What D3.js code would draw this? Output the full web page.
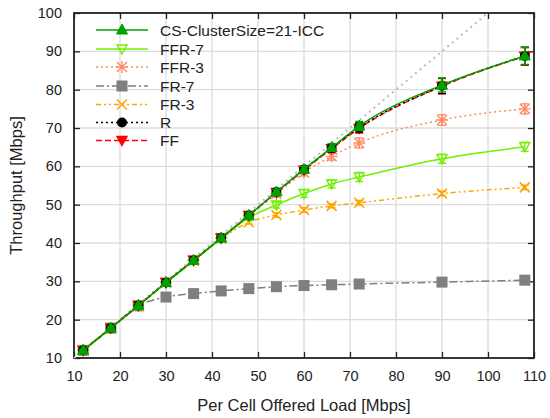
<!DOCTYPE html>
<html><head><meta charset="utf-8">
<script src="https://cdn.jsdelivr.net/npm/d3@7"></script>
<style>body{margin:0;background:#fff}svg{font-family:"Liberation Sans",Arial,sans-serif}</style>
</head><body><svg id="c" width="550" height="418"></svg>
<script>
const loads = [12,18,24,30,36,42,48,54,60,66,72,90,108];
const xTicks = [10,20,30,40,50,60,70,80,90,100,110];
const yTicks = [10,20,30,40,50,60,70,80,90,100];
const csVals   = [12,17.8,23.7,29.7,35.5,41.3,47.2,53.3,59.2,64.9,70.5,81.2,88.8];
const csErr    = [0.3,0.3,0.4,0.4,0.5,0.6,0.6,0.7,0.8,1.0,1.2,1.8,2.2];
const ffr7Vals = [12,17.8,23.6,29.6,35.3,41.1,46.6,49.9,52.9,55.4,57.2,62.0,65.1];
const ffr7Err  = [0.3,0.3,0.4,0.4,0.5,0.5,0.6,0.8,1.0,1.0,1.2,1.2,1.2];
const ffr3Vals = [12,17.8,23.7,29.7,35.5,41.3,47.1,52.8,58.4,62.6,66.1,72.1,75.0];
const ffr3Err  = [0.3,0.3,0.4,0.4,0.5,0.5,0.6,0.8,0.9,1.0,1.3,1.4,1.3];
const fr7Vals  = [12,17.8,23.6,25.9,26.8,27.5,28.1,28.6,28.9,29.1,29.3,29.8,30.3];
const fr7Err   = [0.2,0.2,0.2,0.3,0.3,0.3,0.3,0.3,0.3,0.3,0.3,0.3,0.3];
const fr3Vals  = [12,17.8,23.6,29.6,35.4,41.1,45.4,47.3,48.6,49.7,50.5,52.9,54.5];
const fr3Err   = [0.3,0.3,0.3,0.4,0.4,0.5,0.5,0.6,0.6,0.5,0.6,0.6,0.6];
const rVals    = [12,17.8,23.7,29.7,35.5,41.3,47.2,53.3,59.2,64.8,70.1,81.0,88.8];
const rErr     = [0.3,0.3,0.4,0.4,0.5,0.6,0.6,0.7,0.8,1.0,1.2,2.0,2.3];
const ffVals   = [12,17.8,23.7,29.7,35.5,41.3,47.2,53.2,59.0,64.6,69.9,80.9,88.7];
const ffErr    = [0.3,0.3,0.4,0.4,0.5,0.6,0.6,0.7,0.8,1.0,1.2,2.0,2.3];
const idealX   = [10,100];

const series = [
  {name:"CS-ClusterSize=21-ICC", vals:csVals, err:csErr, color:"#00a000", dash:null, marker:"tri", fill:true},
  {name:"FFR-7", vals:ffr7Vals, err:ffr7Err, color:"#70f000", dash:null, marker:"itri", fill:false},
  {name:"FFR-3", vals:ffr3Vals, err:ffr3Err, color:"#ff8a66", dash:"2,3", marker:"star", fill:false},
  {name:"FR-7", vals:fr7Vals, err:fr7Err, color:"#7f7f7f", dash:"8,3,2,3", marker:"sq", fill:true},
  {name:"FR-3", vals:fr3Vals, err:fr3Err, color:"#ffa500", dash:"5,3,2,3,2,3", marker:"x", fill:false},
  {name:"R", vals:rVals, err:rErr, color:"#000000", dash:"2,3", marker:"circ", fill:true},
  {name:"FF", vals:ffVals, err:ffErr, color:"#ff0000", dash:"6,3", marker:"itrif", fill:true}
];

const svg = d3.select("#c");
const L=74, R=534, T=13, B=358;
const x = d3.scaleLinear().domain([10,110]).range([L,R]);
const y = d3.scaleLinear().domain([10,100]).range([B,T]);

// grid
svg.append("g").selectAll("line").data(xTicks.slice(1,-1)).join("line")
  .attr("x1",d=>x(d)).attr("x2",d=>x(d)).attr("y1",T).attr("y2",B)
  .attr("stroke","#dcdcdc").attr("stroke-width",1.3);
svg.append("g").selectAll("line").data(yTicks.slice(1,-1)).join("line")
  .attr("y1",d=>y(d)).attr("y2",d=>y(d)).attr("x1",L).attr("x2",R)
  .attr("stroke","#dcdcdc").attr("stroke-width",1.3);

// axes
const fs = 14.5;
const ax = svg.append("g").attr("transform",`translate(0,${B})`)
  .call(d3.axisBottom(x).tickValues(xTicks).tickSize(-6).tickPadding(13).tickSizeOuter(0));
const ay = svg.append("g").attr("transform",`translate(${L},0)`)
  .call(d3.axisLeft(y).tickValues(yTicks).tickSize(-6).tickPadding(12).tickSizeOuter(0));
const axT = svg.append("g").attr("transform",`translate(0,${T})`)
  .call(d3.axisTop(x).tickValues(xTicks).tickSize(-6).tickFormat("").tickSizeOuter(0));
const ayR = svg.append("g").attr("transform",`translate(${R},0)`)
  .call(d3.axisRight(y).tickValues(yTicks).tickSize(-6).tickFormat("").tickSizeOuter(0));
[ax,ay,axT,ayR].forEach(g=>{
  g.select(".domain").remove();
  g.selectAll(".tick line").attr("stroke","#222").attr("stroke-width",1.3);
  g.selectAll("text").attr("font-size",fs).attr("fill","#222").attr("font-family","Liberation Sans, Arial, sans-serif");
});
svg.append("rect").attr("x",L).attr("y",T).attr("width",R-L).attr("height",B-T)
  .attr("fill","none").attr("stroke","#222").attr("stroke-width",1.8);

// titles
svg.append("text").attr("x",(L+R)/2).attr("y",411).attr("text-anchor","middle")
  .attr("font-size",16.5).attr("fill","#222").text("Per Cell Offered Load [Mbps]");
svg.append("text").attr("transform",`translate(22,${(T+B)/2}) rotate(-90)`).attr("text-anchor","middle")
  .attr("font-size",16.5).attr("fill","#222").text("Throughput [Mbps]");

const plot = svg.append("g");
// ideal line
plot.append("line").attr("x1",x(idealX[0])).attr("y1",y(idealX[0])).attr("x2",x(idealX[1])).attr("y2",y(idealX[1]))
  .attr("stroke","#bbbbbb").attr("stroke-width",2).attr("stroke-dasharray","2,4");

function marker(g, type, color, cx, cy){
  const s=5;
  if(type==="tri"){
    g.append("path").attr("d",`M${cx},${cy-s-1}L${cx+s+0.5},${cy+s-1}L${cx-s-0.5},${cy+s-1}Z`).attr("fill",color).attr("stroke",color);
  } else if(type==="itri"||type==="itrif"){
    g.append("path").attr("d",`M${cx},${cy+s}L${cx+s},${cy-s+1}L${cx-s},${cy-s+1}Z`)
      .attr("fill",type==="itrif"?color:"none").attr("stroke",color).attr("stroke-width",1.4);
  } else if(type==="sq"){
    g.append("rect").attr("x",cx-5.5).attr("y",cy-5.5).attr("width",11).attr("height",11).attr("fill",color);
  } else if(type==="circ"){
    g.append("circle").attr("cx",cx).attr("cy",cy).attr("r",5).attr("fill",color);
  } else if(type==="x"){
    g.append("path").attr("d",`M${cx-s},${cy-s}L${cx+s},${cy+s}M${cx-s},${cy+s}L${cx+s},${cy-s}`).attr("stroke",color).attr("stroke-width",1.6);
  } else if(type==="star"){
    g.append("path").attr("d",`M${cx-s},${cy-s}L${cx+s},${cy+s}M${cx-s},${cy+s}L${cx+s},${cy-s}M${cx-s-1},${cy}L${cx+s+1},${cy}M${cx},${cy-s-1}L${cx},${cy+s+1}`).attr("stroke",color).attr("stroke-width",1.4);
  }
}

const line = d3.line().x((d,i)=>x(loads[i])).y(d=>y(d)).curve(d3.curveMonotoneX);
const drawOrder = [3,4,2,1,6,5,0];
drawOrder.forEach(k=>{
  const s = series[k];
  const g = plot.append("g");
  g.append("path").datum(s.vals).attr("d",line).attr("fill","none").attr("stroke",s.color)
    .attr("stroke-width",1.5).attr("stroke-dasharray",s.dash);
  s.vals.forEach((v,i)=>{
    const cx=x(loads[i]);
    const e=s.err[i];
    const y1=y(v+e), y2=y(v-e);
    g.append("path").attr("d",`M${cx},${y1}L${cx},${y2}M${cx-4},${y1}L${cx+4},${y1}M${cx-4},${y2}L${cx+4},${y2}`)
      .attr("stroke",s.color).attr("stroke-width",1.3).attr("fill","none");
    marker(g,s.marker,s.color,cx,y(v));
  });
});

// legend
const lg = svg.append("g");
const rows=[30,49,67,86,104.5,122.5,140.5];
series.forEach((s,i)=>{
  const yy=rows[i];
  lg.append("line").attr("x1",96).attr("x2",148).attr("y1",yy).attr("y2",yy).attr("stroke",s.color)
    .attr("stroke-width",1.5).attr("stroke-dasharray",s.dash);
  marker(lg,s.marker,s.color,122,yy);
  lg.append("text").attr("x",160).attr("y",yy+5.5).attr("font-size",15.5).attr("fill","#222").text(s.name);
});
</script></body></html>
